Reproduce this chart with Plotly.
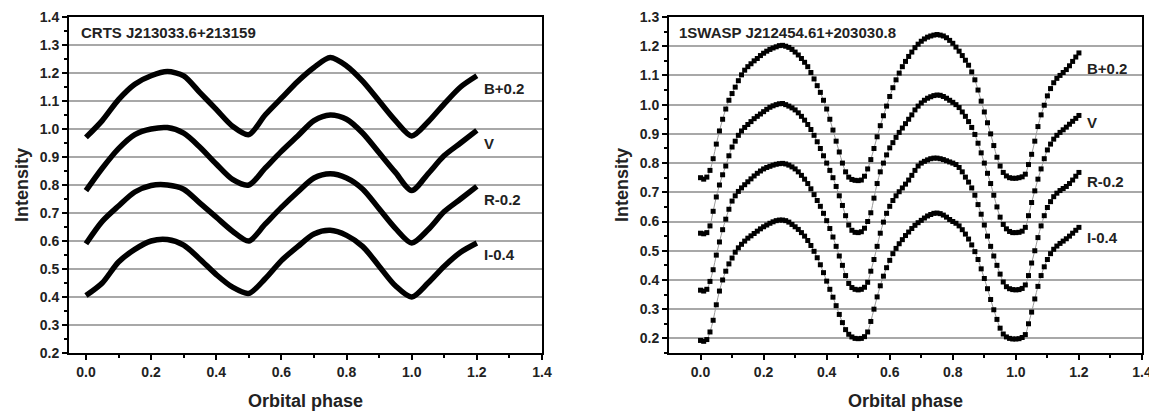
import plotly.graph_objects as go

# ---------------- data: left panel (CRTS J213033.6+213159) ----------------
phase_left = [0.00, 0.05, 0.10, 0.15, 0.20, 0.25, 0.30, 0.35, 0.40, 0.45, 0.50, 0.55,
              0.60, 0.65, 0.70, 0.75, 0.80, 0.85, 0.90, 0.95, 1.00, 1.05, 1.10, 1.15, 1.20]
B_left = [0.970, 1.030, 1.105, 1.160, 1.190, 1.205, 1.190, 1.130, 1.070, 1.010, 0.980, 1.050,
          1.110, 1.170, 1.220, 1.255, 1.225, 1.170, 1.100, 1.030, 0.975, 1.025, 1.090, 1.150, 1.190]
V_left = [0.780, 0.860, 0.930, 0.980, 1.000, 1.005, 0.985, 0.935, 0.875, 0.820, 0.800, 0.860,
          0.920, 0.975, 1.030, 1.050, 1.035, 0.985, 0.915, 0.845, 0.780, 0.840, 0.905, 0.950, 0.995]
R_left = [0.590, 0.670, 0.725, 0.775, 0.798, 0.800, 0.785, 0.735, 0.685, 0.635, 0.600, 0.660,
          0.720, 0.775, 0.825, 0.840, 0.825, 0.785, 0.715, 0.645, 0.593, 0.640, 0.705, 0.750, 0.795]
I_left = [0.405, 0.450, 0.525, 0.570, 0.600, 0.605, 0.585, 0.535, 0.480, 0.435, 0.413, 0.465,
          0.530, 0.580, 0.625, 0.638, 0.620, 0.580, 0.510, 0.440, 0.400, 0.450, 0.510, 0.560, 0.593]

# ---------------- data: right panel (1SWASP J212454.61+203030.8) ----------------
phase_right = [round(0.01 * i, 2) for i in range(121)]
B_right = [0.750, 0.745, 0.752, 0.775, 0.815, 0.865, 0.910, 0.950, 0.985, 1.015,
           1.038, 1.060, 1.082, 1.102, 1.118, 1.130, 1.140, 1.150, 1.158, 1.168,
           1.176, 1.183, 1.189, 1.194, 1.198, 1.202, 1.203, 1.200, 1.196, 1.189,
           1.180, 1.170, 1.158, 1.145, 1.130, 1.110, 1.088, 1.065, 1.042, 1.015,
           0.985, 0.950, 0.913, 0.875, 0.838, 0.800, 0.770, 0.752, 0.744, 0.741,
           0.740, 0.742, 0.755, 0.780, 0.812, 0.850, 0.890, 0.928, 0.962, 0.995,
           1.028, 1.058, 1.085, 1.108, 1.130, 1.148, 1.165, 1.180, 1.195, 1.207,
           1.217, 1.225, 1.231, 1.235, 1.238, 1.240, 1.238, 1.235, 1.229, 1.220,
           1.210, 1.197, 1.183, 1.168, 1.152, 1.135, 1.112, 1.085, 1.050, 1.012,
           0.975, 0.938, 0.900, 0.860, 0.820, 0.790, 0.768, 0.756, 0.750, 0.748,
           0.748, 0.750, 0.753, 0.762, 0.795, 0.830, 0.875, 0.925, 0.965, 0.998,
           1.030, 1.055, 1.075, 1.090, 1.100, 1.110, 1.120, 1.133, 1.148, 1.163, 1.177]
V_right = [0.560, 0.558, 0.562, 0.585, 0.635, 0.684, 0.725, 0.760, 0.790, 0.825,
           0.855, 0.875, 0.895, 0.910, 0.922, 0.932, 0.942, 0.952, 0.960, 0.968,
           0.976, 0.984, 0.991, 0.996, 1.000, 1.003, 1.004, 1.000, 0.995, 0.989,
           0.982, 0.972, 0.960, 0.947, 0.932, 0.915, 0.895, 0.873, 0.850, 0.825,
           0.800, 0.775, 0.750, 0.720, 0.688, 0.655, 0.620, 0.588, 0.570, 0.563,
           0.562, 0.565, 0.577, 0.600, 0.630, 0.680, 0.730, 0.770, 0.800, 0.828,
           0.852, 0.870, 0.888, 0.905, 0.920, 0.935, 0.950, 0.965, 0.982, 0.995,
           1.006, 1.015, 1.022, 1.027, 1.031, 1.033, 1.032, 1.028, 1.022, 1.015,
           1.008, 1.000, 0.990, 0.975, 0.960, 0.942, 0.922, 0.898, 0.868, 0.835,
           0.800, 0.765, 0.730, 0.690, 0.650, 0.615, 0.590, 0.575, 0.566, 0.562,
           0.562, 0.563, 0.567, 0.580, 0.620, 0.665, 0.705, 0.745, 0.780, 0.815,
           0.845, 0.865, 0.882, 0.895, 0.905, 0.914, 0.923, 0.933, 0.943, 0.953, 0.963]
R_right = [0.365, 0.362, 0.368, 0.395, 0.435, 0.485, 0.530, 0.572, 0.608, 0.642,
           0.670, 0.688, 0.703, 0.715, 0.726, 0.736, 0.746, 0.756, 0.765, 0.773,
           0.780, 0.785, 0.789, 0.793, 0.796, 0.798, 0.799, 0.797, 0.793, 0.787,
           0.780, 0.770, 0.758, 0.745, 0.730, 0.712, 0.692, 0.672, 0.652, 0.628,
           0.603, 0.576, 0.547, 0.515, 0.482, 0.450, 0.415, 0.388, 0.374, 0.368,
           0.366, 0.368, 0.375, 0.392, 0.430, 0.470, 0.515, 0.560, 0.598, 0.628,
           0.652, 0.672, 0.688, 0.702, 0.715, 0.728, 0.742, 0.758, 0.775, 0.790,
           0.800, 0.806, 0.811, 0.815, 0.817, 0.817, 0.815, 0.812, 0.808, 0.804,
           0.800, 0.795, 0.785, 0.770, 0.752, 0.735, 0.715, 0.690, 0.658, 0.625,
           0.588, 0.550, 0.515, 0.482, 0.450, 0.420, 0.393, 0.377, 0.370, 0.367,
           0.366, 0.367, 0.371, 0.383, 0.415, 0.458, 0.500, 0.545, 0.585, 0.620,
           0.648, 0.668, 0.685, 0.697, 0.706, 0.713, 0.720, 0.730, 0.742, 0.755, 0.768]
I_right = [0.193, 0.190, 0.196, 0.222, 0.262, 0.315, 0.362, 0.400, 0.430, 0.455,
           0.475, 0.495, 0.510, 0.522, 0.533, 0.543, 0.551, 0.559, 0.567, 0.575,
           0.582, 0.588, 0.594, 0.599, 0.603, 0.605, 0.605, 0.603, 0.598, 0.590,
           0.582, 0.573, 0.562, 0.550, 0.535, 0.518, 0.498, 0.476, 0.452, 0.425,
           0.396, 0.368, 0.341, 0.312, 0.282, 0.254, 0.230, 0.214, 0.205, 0.200,
           0.199, 0.200, 0.206, 0.222, 0.258, 0.300, 0.342, 0.380, 0.413, 0.442,
           0.467, 0.490, 0.508, 0.524, 0.538, 0.552, 0.564, 0.576, 0.587, 0.596,
           0.604, 0.612, 0.619, 0.624, 0.628, 0.629, 0.627, 0.622, 0.615, 0.607,
           0.600, 0.594, 0.585, 0.572, 0.557, 0.540, 0.520, 0.497, 0.470, 0.438,
           0.405, 0.370, 0.333, 0.298, 0.265, 0.235, 0.215, 0.205, 0.200, 0.198,
           0.198, 0.199, 0.203, 0.213, 0.250, 0.290, 0.335, 0.378, 0.415, 0.445,
           0.470, 0.490, 0.505, 0.516, 0.525, 0.533, 0.541, 0.550, 0.560, 0.570, 0.580]

band_labels = ["B+0.2", "V", "R-0.2", "I-0.4"]
label_y_left = [1.145, 0.950, 0.750, 0.553]
label_y_right = [1.125, 0.940, 0.738, 0.545]
title_left = "CRTS J213033.6+213159"
title_right = "1SWASP J212454.61+203030.8"
x_ticks = [0.0, 0.2, 0.4, 0.6, 0.8, 1.0, 1.2, 1.4]

FONT = "Liberation Sans"
# the page body has an 8px margin: the figure starts at (8, 8) of the window
OFF = 8
W, H = 1157 - OFF, 414 - OFF


def px_x(p):
    return (p - OFF) / W


def px_y(p):
    return 1 - (p - OFF) / H


fig = go.Figure()

for ys in [B_left, V_left, R_left, I_left]:
    fig.add_trace(go.Scatter(
        x=phase_left, y=ys, mode="lines", xaxis="x", yaxis="y",
        line=dict(color="black", width=5.5, shape="spline", smoothing=0.8),
        showlegend=False, hoverinfo="skip"))

for ys in [B_right, V_right, R_right, I_right]:
    fig.add_trace(go.Scatter(
        x=phase_right, y=ys, mode="lines+markers", xaxis="x2", yaxis="y2",
        line=dict(color="#9a9a9a", width=1, shape="spline"),
        marker=dict(symbol="square", size=5, color="black"),
        showlegend=False, hoverinfo="skip"))

tickfont = dict(family=FONT, size=14, color="#222222", weight="bold")
titlefont = dict(family=FONT, size=18, color="#222222", weight="bold")


def xaxis_cfg(rng, domain, anchor):
    return dict(
        range=rng, domain=domain, anchor=anchor,
        tickmode="array", tickvals=x_ticks, ticktext=[f"{v:.1f}" for v in x_ticks],
        ticks="outside", ticklen=5, tickwidth=2, tickcolor="black",
        minor=dict(tickmode="array", tickvals=[0.1, 0.3, 0.5, 0.7, 0.9, 1.1, 1.3],
                   ticks="outside", ticklen=3, tickwidth=2, tickcolor="black"),
        showline=True, linecolor="black", linewidth=2, mirror=True,
        showgrid=False, zeroline=False, tickfont=tickfont,
        ticklabelstandoff=0,
        title=dict(text="Orbital phase", font=titlefont, standoff=16),
        automargin=False)


def yaxis_cfg(rng, domain, anchor, tickvals, minorvals):
    return dict(
        range=rng, domain=domain, anchor=anchor,
        tickmode="array", tickvals=tickvals, ticktext=[f"{v:.1f}" for v in tickvals],
        ticks="outside", ticklen=5, tickwidth=2, tickcolor="black",
        minor=dict(tickmode="array", tickvals=minorvals,
                   ticks="outside", ticklen=3, tickwidth=2, tickcolor="black"),
        showline=True, linecolor="black", linewidth=2, mirror=True,
        showgrid=True, gridcolor="#a8a8a8", gridwidth=1.5, zeroline=False,
        tickfont=tickfont,
        title=dict(text="Intensity", font=titlefont, standoff=6),
        automargin=False)


yd = [px_y(353), px_y(17)]
left_ticks = [0.2, 0.3, 0.4, 0.5, 0.6, 0.7, 0.8, 0.9, 1.0, 1.1, 1.2, 1.3, 1.4]
left_minor = [0.25, 0.35, 0.45, 0.55, 0.65, 0.75, 0.85, 0.95, 1.05, 1.15, 1.25, 1.35]
right_ticks = [0.2, 0.3, 0.4, 0.5, 0.6, 0.7, 0.8, 0.9, 1.0, 1.1, 1.2, 1.3]
right_minor = [0.15, 0.25, 0.35, 0.45, 0.55, 0.65, 0.75, 0.85, 0.95, 1.05, 1.15, 1.25]

annotations = []
for lab, y in zip(band_labels, label_y_left):
    annotations.append(dict(x=1.215, y=y, xref="x", yref="y", text=lab, showarrow=False,
                            xanchor="left", yanchor="middle",
                            font=dict(family=FONT, size=15, color="#222222", weight="bold")))
for lab, y in zip(band_labels, label_y_right):
    annotations.append(dict(x=1.22, y=y, xref="x2", yref="y2", text=lab, showarrow=False,
                            xanchor="left", yanchor="middle",
                            font=dict(family=FONT, size=15, color="#222222", weight="bold")))
annotations.append(dict(x=px_x(79), y=px_y(33), xref="paper", yref="paper", text=title_left,
                        showarrow=False, xanchor="left", yanchor="middle",
                        font=dict(family=FONT, size=15, color="#222222", weight="bold")))
annotations.append(dict(x=px_x(677), y=px_y(33), xref="paper", yref="paper", text=title_right,
                        showarrow=False, xanchor="left", yanchor="middle",
                        font=dict(family=FONT, size=15, color="#222222", weight="bold")))

fig.update_layout(
    width=W, height=H,
    margin=dict(l=0, r=0, t=0, b=0),
    paper_bgcolor="white", plot_bgcolor="white",
    xaxis=xaxis_cfg([-0.052, 1.4], [px_x(69), px_x(542)], "y"),
    yaxis=yaxis_cfg([0.2, 1.4], yd, "x", left_ticks, left_minor),
    xaxis2=xaxis_cfg([-0.1, 1.4], [px_x(669), px_x(1142)], "y2"),
    yaxis2=yaxis_cfg([0.15, 1.3], yd, "x2", right_ticks, right_minor),
    annotations=annotations,
)

fig.write_html("out.html")
